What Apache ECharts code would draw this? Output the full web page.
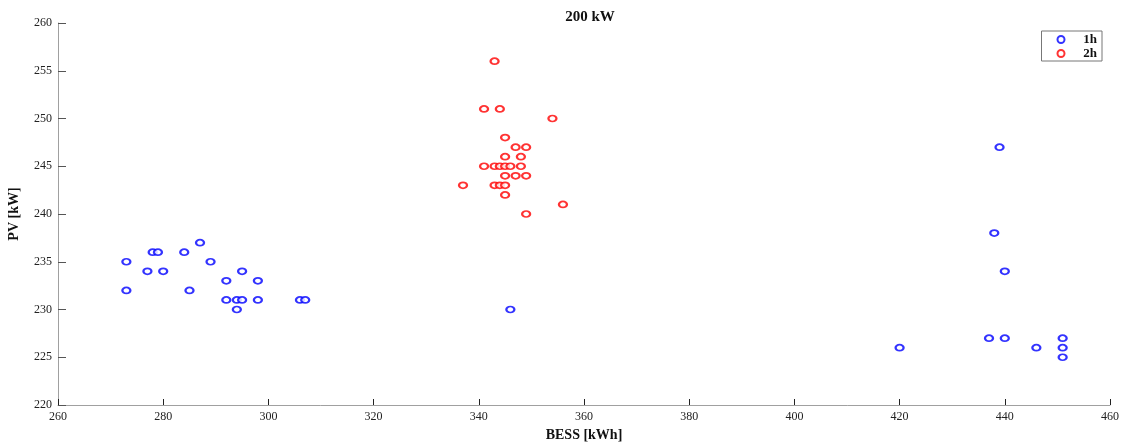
<!DOCTYPE html>
<html>
<head>
<meta charset="utf-8">
<script src="https://cdn.jsdelivr.net/npm/echarts@6/dist/echarts.min.js"></script>
<style>
html,body{margin:0;padding:0;background:#fff;}
#chart{width:1129px;height:444px;}
</style>
</head>
<body>
<div id="chart"></div>
<script>
// BESS [kWh], PV [kW] pairs
const series1hBESS = [273,273,278,279,277,280,284,287,289,285,295,292,298,292,294,295,298,294,306,307,346,439,438,440,437,440,451,420,446,451,451];
const series1hPV   = [235,232,236,236,234,234,236,237,235,232,234,233,233,231,231,231,231,230,231,231,230,247,238,234,227,227,227,226,226,226,225];
const series2hBESS = [343,341,344,354,345,347,349,345,348,341,343,344,345,346,348,345,347,349,337,343,344,345,345,356,349];
const series2hPV   = [256,251,251,250,248,247,247,246,246,245,245,245,245,245,245,244,244,244,243,243,243,243,242,241,240];
const seriesNames = ['1h','2h'];
const xTicks = {min:260, max:460, interval:20};
const yTicks = {min:220, max:260, interval:5};

function pairs(xs, ys){ return xs.map((x,i)=>[x, ys[i]]); }

const font = 'Liberation Serif, Times New Roman, serif';
const chart = echarts.init(document.getElementById('chart'));
chart.setOption({
  animation:false,
  backgroundColor:'#fff',
  title:{text:'200 kW', left:585, textAlign:'center', top:5,
    textStyle:{fontFamily:font, fontSize:15, fontWeight:'bold', color:'#111'}},
  legend:{
    orient:'vertical', right:27, top:31,
    borderColor:'#777', borderWidth:1, borderRadius:0,
    padding:[2,5,1,15], itemGap:1,
    itemWidth:10, itemHeight:7,
    formatter:function(n){ return '{t|' + n + '}'; },
    textStyle:{fontFamily:font, fontSize:13, fontWeight:'bold', color:'#111', lineHeight:11,
      rich:{t:{fontFamily:font, fontSize:13, fontWeight:'bold', color:'#111', width:26, align:'right', lineHeight:11}}},
    data:seriesNames.map(n=>({name:n, icon:'emptyCircle'}))
  },
  grid:{left:58, right:19, top:23, bottom:39, outerBoundsMode:'none', containLabel:false},
  xAxis:{
    type:'value', min:xTicks.min, max:xTicks.max, interval:xTicks.interval,
    name:'BESS [kWh]', nameLocation:'middle', nameGap:16,
    nameTextStyle:{fontFamily:font, fontSize:14, fontWeight:'bold', color:'#111'},
    axisLine:{show:true, lineStyle:{color:'#a0a0a0', width:1}},
    axisTick:{show:true, inside:true, length:6, lineStyle:{color:'#222'}},
    axisLabel:{fontFamily:font, fontSize:12, color:'#222', margin:6, showMaxLabel:true, showMinLabel:true},
    splitLine:{show:false}
  },
  yAxis:{
    type:'value', min:yTicks.min, max:yTicks.max, interval:yTicks.interval,
    name:'PV [kW]', nameLocation:'middle', nameGap:37, nameRotate:90,
    nameTextStyle:{fontFamily:font, fontSize:14, fontWeight:'bold', color:'#111'},
    axisLine:{show:true, lineStyle:{color:'#a0a0a0', width:1}},
    axisTick:{show:true, inside:true, length:8, lineStyle:{color:'#555'}},
    axisLabel:{fontFamily:font, fontSize:12, color:'#222', margin:6},
    splitLine:{show:false}
  },
  series:[
    {name:seriesNames[0], type:'scatter', symbol:'emptyCircle', symbolSize:[8,6],
     itemStyle:{color:'#0000ff', borderColor:'#0000ff', borderWidth:1.5},
     data:pairs(series1hBESS, series1hPV)},
    {name:seriesNames[1], type:'scatter', symbol:'emptyCircle', symbolSize:[8,6],
     itemStyle:{color:'#ff0000', borderColor:'#ff0000', borderWidth:1.5},
     data:pairs(series2hBESS, series2hPV)}
  ]
});
</script>
</body>
</html>
